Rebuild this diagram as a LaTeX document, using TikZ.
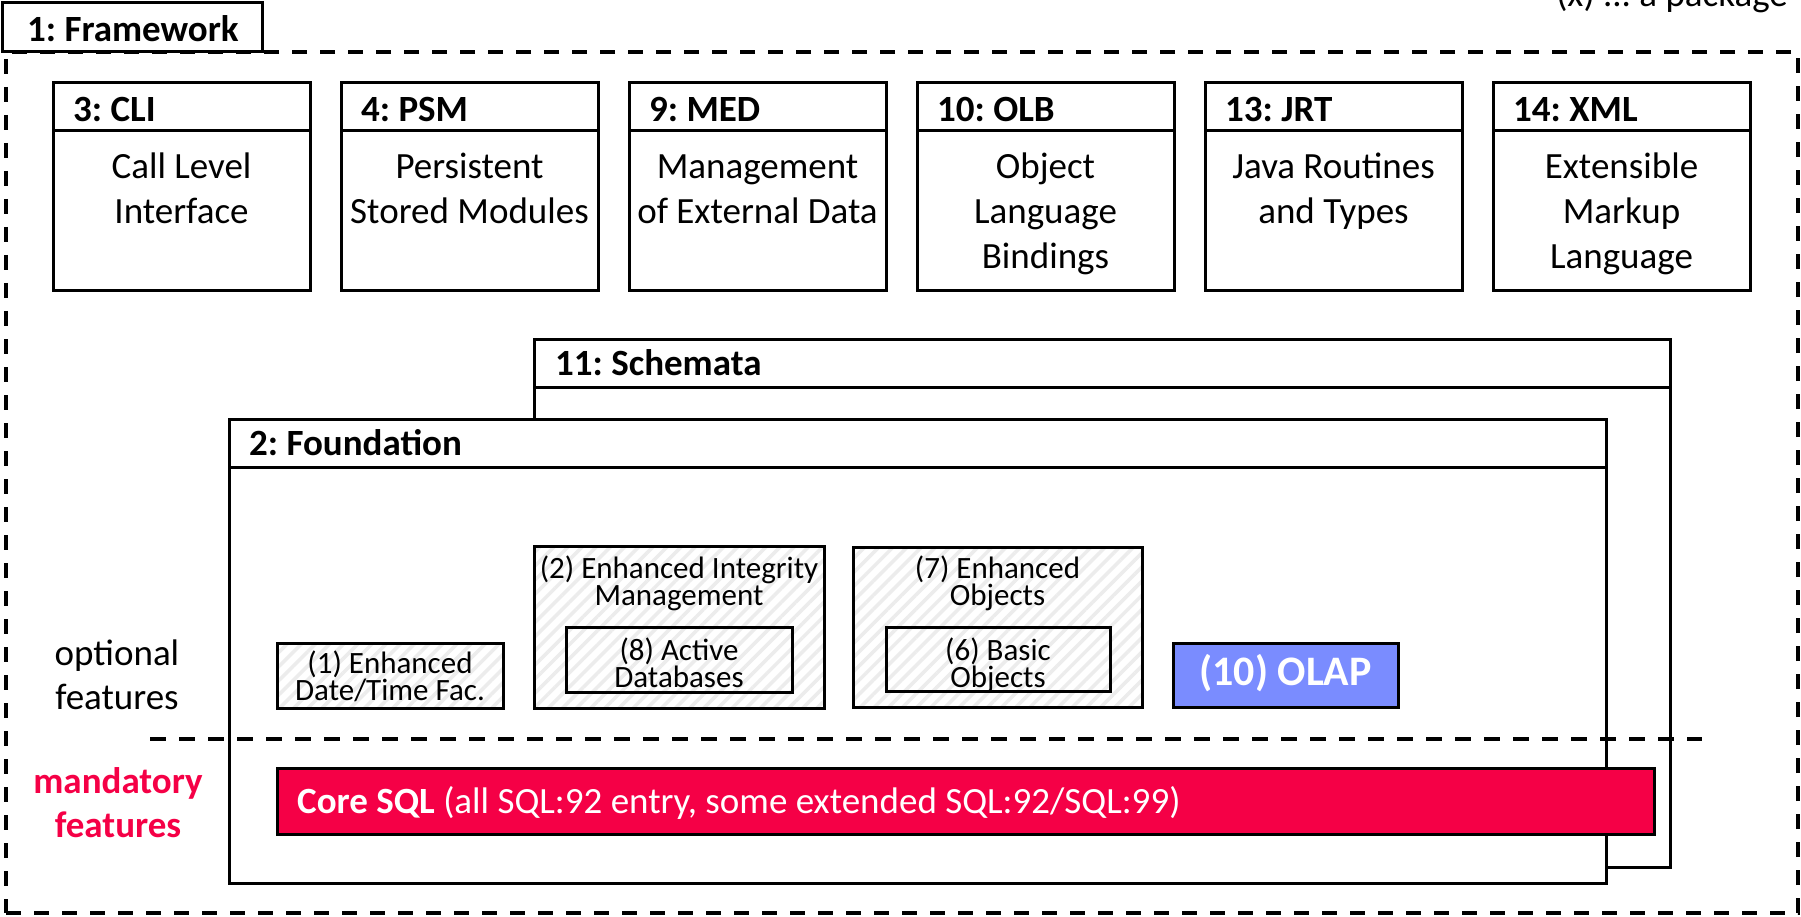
\documentclass[tikz,border=0pt]{standalone}
\usepackage{fontspec}
\setmainfont{Carlito}
\usetikzlibrary{patterns.meta,calc}

\definecolor{coresql}{RGB}{245,0,70}
\definecolor{olapblue}{RGB}{122,140,255}
\definecolor{hatchgray}{RGB}{236,236,236}

% text sizes (1 unit = 1pt)
\newcommand\sizebody{\fontsize{37}{45}\selectfont}
\newcommand\sizeside{\fontsize{37}{44}\selectfont}
\newcommand\sizefeat{\fontsize{31}{27}\selectfont\lineskiplimit=-60pt}
\newcommand\sizeolap{\fontsize{42}{50}\selectfont}
\newcommand\firstline[1]{\rule{0pt}{#1}}
\frenchspacing

\tikzset{
  pkgbox/.style={draw=black, line width=3pt, fill=white, inner sep=0pt,
    outer sep=0pt, anchor=north west},
  hdrline/.style={draw=black, line width=3pt},
  pkgtitle/.style={font=\sizebody\bfseries, anchor=base west, inner sep=0pt},
  pkgtext/.style={font=\sizebody, align=center, anchor=north, inner sep=0pt},
  featbox/.style={draw=black, line width=3pt, inner sep=0pt, outer sep=0pt,
    anchor=north west, preaction={fill=white},
    pattern={Lines[angle=45,distance=10pt,line width=3.5pt]},
    pattern color=hatchgray},
  feattext/.style={font=\sizefeat, align=center, anchor=north, inner sep=0pt},
  framebox/.style={draw=black, line width=4pt, dash pattern=on 15pt off 13pt,
    inner sep=0pt, outer sep=0pt, anchor=north west},
  sepline/.style={draw=black, line width=4pt, dash pattern=on 16pt off 13pt},
}

\begin{document}
\begin{tikzpicture}[x=1pt, y=-1pt]
\useasboundingbox (0,0) rectangle (1801,917);

% legend at the top right
\node[font=\sizebody, anchor=base east, inner sep=0pt] (note) at (1788,7) {(x) ... a package};

% framework package
\node[framebox, minimum width=1792pt, minimum height=861pt] (fwframe) at (6,52) {};
\node[pkgbox, minimum width=260pt, minimum height=49pt] (fw) at (2,3) {};
\node[pkgtitle] (fw-t) at (27,42) {1: Framework};

% row of parts
\node[pkgbox, minimum width=257pt, minimum height=208pt] (cli) at (53,83) {};
\node[pkgbox, minimum width=257pt, minimum height=208pt] (psm) at (341,83) {};
\node[pkgbox, minimum width=257pt, minimum height=208pt] (med) at (629,83) {};
\node[pkgbox, minimum width=257pt, minimum height=208pt] (olb) at (917,83) {};
\node[pkgbox, minimum width=257pt, minimum height=208pt] (jrt) at (1205,83) {};
\node[pkgbox, minimum width=257pt, minimum height=208pt] (xml) at (1493,83) {};
\foreach \p in {cli,psm,med,olb,jrt,xml}
  \draw[hdrline] ([yshift=-48pt]\p.north west) -- ([yshift=-48pt]\p.north east);

\node[pkgtitle] (cli-t) at (73,122) {3: CLI};
\node[pkgtitle] (psm-t) at (361,122) {4: PSM};
\node[pkgtitle] (med-t) at (649,122) {9: MED};
\node[pkgtitle] (olb-t) at (937,122) {10: OLB};
\node[pkgtitle] (jrt-t) at (1225,122) {13: JRT};
\node[pkgtitle] (xml-t) at (1513,122) {14: XML};

\node[pkgtext] (cli-d) at (181.5,148) {\firstline{30pt}Call Level\\Interface};
\node[pkgtext] (psm-d) at (469.5,148) {\firstline{30pt}Persistent\\Stored Modules};
\node[pkgtext] (med-d) at (757.5,148) {\firstline{30pt}Management\\of External Data};
\node[pkgtext] (olb-d) at (1045.5,148) {\firstline{30pt}Object\\Language\\Bindings};
\node[pkgtext] (jrt-d) at (1333.5,148) {\firstline{30pt}Java Routines\\and Types};
\node[pkgtext] (xml-d) at (1621.5,148) {\firstline{30pt}Extensible\\Markup\\Language};

% schemata behind foundation
\node[pkgbox, minimum width=1136pt, minimum height=528pt] (schemata) at (534,339) {};
\draw[hdrline] ([yshift=-48pt]schemata.north west) -- ([yshift=-48pt]schemata.north east);
\node[pkgtitle] (schemata-t) at (555,375) {11: Schemata};

\node[pkgbox, minimum width=1377pt, minimum height=464pt] (foundation) at (229,419) {};
\draw[hdrline] ([yshift=-48pt]foundation.north west) -- ([yshift=-48pt]foundation.north east);
\node[pkgtitle] (foundation-t) at (249,455) {2: Foundation};

% optional features
\node[featbox, minimum width=226pt, minimum height=65pt] (f1) at (277,643) {};
\node[feattext] (f1-t) at (390,647) {\firstline{26pt}(1) Enhanced\\Date/Time Fac.};

\node[featbox, minimum width=290pt, minimum height=162pt] (f2) at (534,546) {};
\node[feattext] (f2-t) at (679,552) {\firstline{26pt}(2) Enhanced Integrity\\Management};
\node[featbox, minimum width=226pt, minimum height=65pt] (f8) at (566,627) {};
\node[feattext] (f8-t) at (679,634) {\firstline{26pt}(8) Active\\Databases};

\node[featbox, minimum width=289pt, minimum height=160pt] (f7) at (853,547) {};
\node[feattext] (f7-t) at (997.5,552) {\firstline{26pt}(7) Enhanced\\Objects};
\node[featbox, minimum width=224pt, minimum height=64pt] (f6) at (886,627) {};
\node[feattext] (f6-t) at (998,634) {\firstline{26pt}(6) Basic\\Objects};

\node[draw=black, line width=3pt, fill=olapblue, inner sep=0pt, outer sep=0pt,
  anchor=north west, minimum width=225pt, minimum height=64pt] (olap) at (1173,643) {};
\node[font=\sizeolap\bfseries, text=white, anchor=base, inner sep=0pt] (olap-t)
  at (1285.5,685) {(10) OLAP};

% optional / mandatory separator
\coordinate (sepL) at (150,739);
\coordinate (sepR) at (1702,739);
\draw[sepline] (sepL) -- (sepR);

% mandatory core
\node[draw=black, line width=3pt, fill=coresql, inner sep=0pt, outer sep=0pt,
  anchor=north west, minimum width=1377pt, minimum height=66pt] (core) at (277,768) {};
\node[font=\sizebody, text=white, anchor=base west, inner sep=0pt] (core-t)
  at (297,813) {\textbf{Core SQL} (all SQL:92 entry, some extended SQL:92/SQL:99)};

% side labels
\node[font=\sizeside, align=center, anchor=north, inner sep=0pt] (opt) at (117,635)
  {\firstline{30pt}optional\\features};
\node[font=\sizeside\bfseries, text=coresql, align=center, anchor=north, inner sep=0pt]
  (mand) at (118,763) {\firstline{30pt}mandatory\\features};
\end{tikzpicture}
\end{document}
